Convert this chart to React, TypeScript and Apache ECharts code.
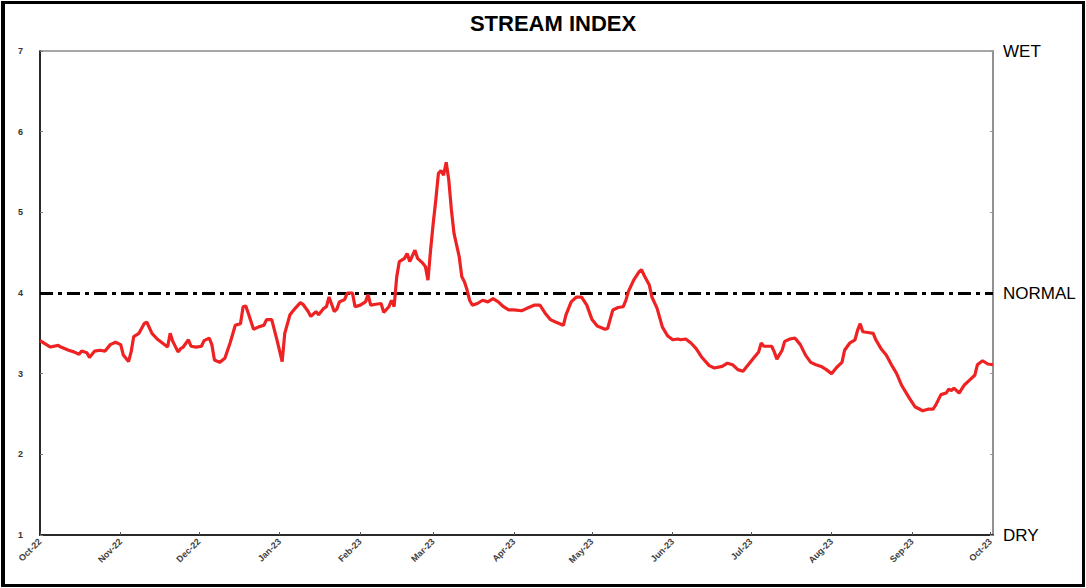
import React, { useEffect, useRef } from "react";
import * as echarts from "echarts";

const TITLE = "STREAM INDEX";
const START_YEAR = 2022;
const START_MONTH = 9; // October (0-based)
const AXIS_END_OFFSET = 366;
const MONTH_NAMES = ["Jan", "Feb", "Mar", "Apr", "May", "Jun", "Jul", "Aug", "Sep", "Oct", "Nov", "Dec"];

// days after 1 Oct 2022
const DAY_OFFSETS = [
  0, 2, 4, 7, 8, 11, 13, 15, 16, 18, 19, 21, 23, 25, 27, 29, 31, 32, 34, 35,
  36, 38, 40, 41, 43, 45, 47, 49, 50, 51, 53, 54, 55, 57, 58, 60, 62, 63, 65, 66,
  67, 69, 71, 73, 75, 77, 78, 79, 80, 82, 84, 86, 87, 89, 91, 93, 94, 96,
  98, 100, 101, 103, 104, 106, 107, 109, 110, 111, 113, 114, 115, 117, 118, 120, 121, 123, 125, 126,
  127, 129, 131, 132, 134, 135, 136, 137, 138, 140, 141, 142, 144, 145, 147, 148, 149, 150, 151, 152,
  153, 154, 155, 156, 157, 158, 159, 161, 162, 163, 164, 165, 166, 168, 170, 172, 174, 176, 178, 180,
  182, 185,
  187, 190, 192, 194, 196, 198, 201, 202, 204, 206, 208, 210, 212, 214, 217, 218, 220, 222, 224, 225,
  226, 228, 230, 231, 232, 234, 235, 237, 239, 241, 243, 245, 246, 248, 250, 252, 254, 257, 259, 262,
  264, 266, 268, 270, 272, 274,
  276, 277, 278, 281, 282, 283, 285, 286, 288, 290, 292, 294, 296, 298, 300, 302, 304, 306, 308, 309,
  311, 313, 314, 315, 316, 318, 320, 321, 323, 325, 327, 329, 331, 334, 336, 339, 341, 343, 344, 346,
  348, 349, 350, 351, 353, 355, 357, 359, 360, 362, 364, 366,
];

const INDEX_VALUES = [
  3.41, 3.37, 3.33, 3.35, 3.33, 3.29, 3.27, 3.24, 3.28, 3.26, 3.2, 3.28, 3.29, 3.28, 3.36, 3.39, 3.36, 3.23, 3.15, 3.27,
  3.46, 3.5, 3.62, 3.64, 3.5, 3.43, 3.38, 3.33, 3.5, 3.4, 3.27, 3.31, 3.33, 3.42, 3.34, 3.33, 3.34, 3.41, 3.44, 3.36,
  3.17, 3.14, 3.19, 3.38, 3.6, 3.62, 3.83, 3.84, 3.75, 3.55, 3.58, 3.6, 3.67, 3.67, 3.42, 3.15, 3.5, 3.73,
  3.81, 3.88, 3.86, 3.77, 3.71, 3.77, 3.73, 3.81, 3.83, 3.95, 3.77, 3.8, 3.89, 3.92, 4.0, 4.0, 3.83, 3.85, 3.89, 3.98,
  3.85, 3.86, 3.87, 3.76, 3.83, 3.91, 3.83, 4.2, 4.39, 4.43, 4.49, 4.39, 4.53, 4.43, 4.37, 4.33, 4.16, 4.53, 4.86, 5.15,
  5.48, 5.52, 5.46, 5.62, 5.4, 5.03, 4.74, 4.45, 4.2, 4.14, 4.04, 3.91, 3.85, 3.87, 3.91, 3.89, 3.93, 3.89, 3.83, 3.79,
  3.79, 3.78,
  3.81, 3.85, 3.85, 3.75, 3.67, 3.64, 3.6, 3.73, 3.89, 3.95, 3.95, 3.85, 3.67, 3.59, 3.55, 3.56, 3.79, 3.82, 3.83, 3.91,
  4.02, 4.16, 4.26, 4.29, 4.22, 4.1, 3.95, 3.81, 3.58, 3.47, 3.42, 3.43, 3.42, 3.43, 3.38, 3.31, 3.21, 3.1, 3.07, 3.09,
  3.13, 3.11, 3.05, 3.03, 3.11, 3.19,
  3.27, 3.38, 3.34, 3.34, 3.27, 3.18, 3.29, 3.4, 3.43, 3.44, 3.36, 3.23, 3.14, 3.11, 3.09, 3.05, 3.0, 3.08, 3.14, 3.29,
  3.38, 3.42, 3.54, 3.62, 3.52, 3.51, 3.5, 3.42, 3.31, 3.23, 3.11, 3.0, 2.85, 2.69, 2.59, 2.54, 2.56, 2.56, 2.61, 2.74,
  2.76, 2.81, 2.79, 2.82, 2.76, 2.86, 2.92, 2.98, 3.11, 3.16, 3.12, 3.11,
];

const Y_MIN = 1;
const Y_MAX = 7;
const NORMAL_LEVEL = 4;
const RIGHT_LABELS: Record<number, string> = { 7: "WET", 4: "NORMAL", 1: "DRY" };

const dayToTime = (d: number) => new Date(START_YEAR, START_MONTH, 1 + d).getTime();

export default function App() {
  const ref = useRef<HTMLDivElement>(null);

  useEffect(() => {
    if (!ref.current) return;
    const chart = echarts.init(ref.current, undefined, { renderer: "svg" });
    const data = DAY_OFFSETS.map((d, i) => [dayToTime(d), INDEX_VALUES[i]]);
    const sans = "'Liberation Sans', Arial, sans-serif";
    chart.setOption({
      animation: false,
      backgroundColor: "#ffffff",
      title: {
        text: TITLE,
        left: 548,
        textAlign: "center",
        top: 7,
        textStyle: { fontFamily: sans, fontWeight: "bold", fontSize: 22, color: "#000" },
      },
      grid: {
        left: 40,
        right: 93,
        top: 51,
        bottom: 53,
        show: true,
        borderColor: "#8a8a8a",
        borderWidth: 1.5,
        backgroundColor: "transparent",
      },
      xAxis: {
        type: "time",
        min: dayToTime(0),
        max: dayToTime(AXIS_END_OFFSET),
        splitNumber: 12,
        splitLine: { show: false },
        axisLine: { lineStyle: { color: "#000", width: 1.5 } },
        axisTick: { show: true, inside: true, length: 3, lineStyle: { color: "#555" } },
        axisLabel: {
          rotate: 45,
          fontSize: 9,
          fontWeight: "bold",
          fontFamily: sans,
          color: "#404040",
          margin: 5,
          hideOverlap: false,
          formatter: (v: number) => {
            const dt = new Date(v);
            return MONTH_NAMES[dt.getMonth()] + "-" + String(dt.getFullYear() % 100).padStart(2, "0");
          },
        },
      },
      yAxis: [
        {
          type: "value",
          min: Y_MIN,
          max: Y_MAX,
          interval: 1,
          position: "left",
          splitLine: { show: false },
          axisLine: { show: true, lineStyle: { color: "#000", width: 1.5 } },
          axisTick: { show: true, inside: true, length: 3, lineStyle: { color: "#777" } },
          axisLabel: {
            fontSize: 9,
            fontWeight: "bold",
            fontFamily: sans,
            color: "#333",
            margin: 17,
          },
        },
        {
          type: "value",
          min: Y_MIN,
          max: Y_MAX,
          interval: 1,
          position: "right",
          splitLine: { show: false },
          axisLine: { show: true, lineStyle: { color: "#8a8a8a", width: 1.5 } },
          axisTick: { show: true, inside: true, length: 3, lineStyle: { color: "#999" } },
          axisLabel: {
            fontSize: 17,
            fontFamily: sans,
            color: "#000",
            margin: 10,
            formatter: (v: number) => RIGHT_LABELS[v] || "",
          },
        },
      ],
      series: [
        {
          type: "line",
          data,
          showSymbol: false,
          symbol: "none",
          lineStyle: { color: "#EE2222", width: 3.2 },
          z: 3,
          markLine: {
            silent: true,
            symbol: "none",
            label: { show: false },
            lineStyle: { color: "#000", width: 3, type: [13, 5, 4, 5] },
            data: [{ yAxis: NORMAL_LEVEL }],
            z: 2,
          },
        },
      ],
    });
    return () => chart.dispose();
  }, []);

  return (
    <div style={{ position: "absolute", left: 0, top: 0, width: 1086, height: 588 }}>
      <div ref={ref} style={{ position: "absolute", left: 0, top: 0, width: 1086, height: 588 }} />
      <div
        style={{
          position: "absolute",
          left: 1,
          top: 1,
          width: 1084,
          height: 586,
          boxSizing: "border-box",
          border: "3px solid #000",
          borderLeftWidth: 4,
          pointerEvents: "none",
        }}
      />
    </div>
  );
}
